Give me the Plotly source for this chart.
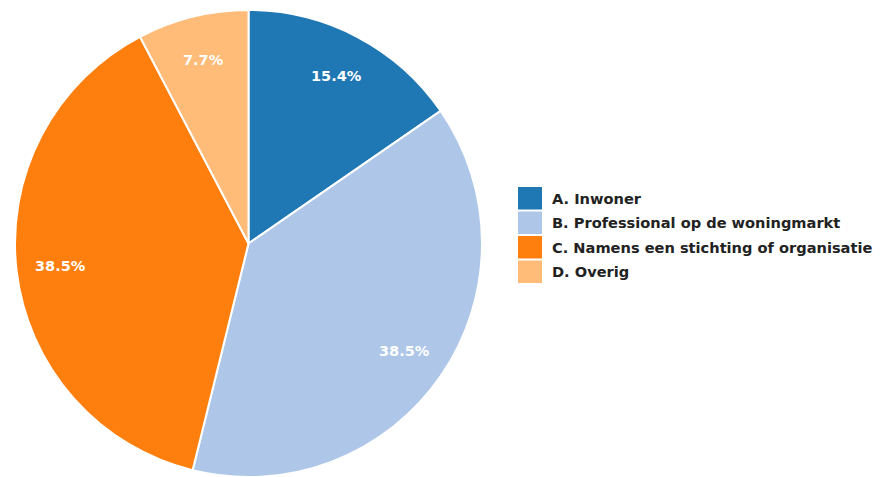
import math
import plotly.graph_objects as go

# Respondent categories and their share of responses (%)
categories = [
    "A. Inwoner",
    "B. Professional op de woningmarkt",
    "C. Namens een stichting of organisatie",
    "D. Overig",
]
shares = [15.4, 38.5, 38.5, 7.7]
colors = ["#1f77b4", "#aec7e8", "#ff7f0e", "#ffbb78"]

W, H = 881, 477
TOP = 10  # top margin in px
FONT = "DejaVu Sans, Verdana, sans-serif"

# pie placement (pixels)
pie_x0, pie_x1 = 14, 483
plot_h = H - TOP
radius = min(pie_x1 - pie_x0, plot_h) / 2
cx = (pie_x0 + pie_x1) / 2
cy = TOP + plot_h / 2


def px_to_paper(px, py):
    return px / W, 1 - (py - TOP) / plot_h


fig = go.Figure()
fig.add_trace(go.Pie(
    labels=categories,
    values=shares,
    sort=False,
    direction="clockwise",
    rotation=0,
    marker=dict(colors=colors, line=dict(color="white", width=2)),
    textinfo="none",
    showlegend=False,
    hoverinfo="label+percent",
    domain=dict(x=[pie_x0 / W, pie_x1 / W], y=[0, 1]),
))

# Percentage labels placed along each slice's mid-angle, near the rim
total = sum(shares)
cum = 0.0
for v in shares:
    mid = (cum + v / 2) / total
    cum += v
    theta = math.radians(90 - 360 * mid)
    r = 0.81 * radius
    lx, ly = px_to_paper(cx + r * math.cos(theta), cy - r * math.sin(theta))
    fig.add_annotation(
        xref="paper", yref="paper", x=lx, y=ly,
        text=f"{v:.1f}%", showarrow=False,
        xanchor="center", yanchor="middle",
        font=dict(family=FONT, size=14.5, color="white", weight="bold"),
    )

# Legend drawn as colour swatches with labels
x0, x1 = 518, 542
row_top = 187
row_h = 24.5
sw_h = 22.5
for i, (name, col) in enumerate(zip(categories, colors)):
    top = row_top + i * row_h
    sx0, sy1 = px_to_paper(x0, top)
    sx1, sy0 = px_to_paper(x1, top + sw_h)
    fig.add_shape(
        type="rect", xref="paper", yref="paper",
        x0=sx0, x1=sx1, y0=sy0, y1=sy1,
        fillcolor=col, line=dict(width=0),
    )
    tx, ty = px_to_paper(550, top + sw_h / 2)
    fig.add_annotation(
        xref="paper", yref="paper", x=tx, y=ty,
        text=name, showarrow=False, xanchor="left", yanchor="middle",
        font=dict(family=FONT, size=14.6, color="#222222", weight="bold"),
    )

fig.update_layout(
    width=W, height=H,
    margin=dict(l=0, r=0, t=TOP, b=0),
    paper_bgcolor="white",
    plot_bgcolor="white",
)

fig.write_html("out.html")
